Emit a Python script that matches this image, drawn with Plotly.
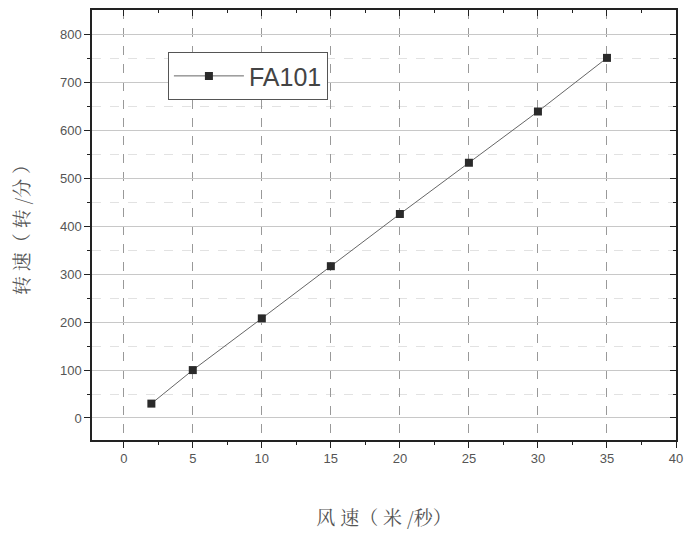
import plotly.graph_objects as go

wind_speed = [2, 5, 10, 15, 20, 25, 30, 35]
rotation_speed = [30, 100, 208, 317, 426, 533, 640, 752]
series_name = "FA101"
x_title = "风 速（ 米 /秒）"
y_title = "转 速（ 转 /分 ）"

fig = go.Figure()
fig.add_trace(go.Scatter(
    x=wind_speed, y=rotation_speed, name=series_name,
    mode="lines+markers",
    line=dict(color="#666666", width=1),
    marker=dict(symbol="square", size=8, color="#2a2a2a"),
))
fig.add_trace(go.Scatter(x=[None], y=[None], xaxis="x2", yaxis="y2",
                         showlegend=False, hoverinfo="skip"))

xr = [-2.3, 40]
yr = [-46, 852]
tickfont = dict(family="Liberation Sans, Arial", size=13, color="#555555")
titlefont = dict(family="Noto Serif CJK SC, Noto Sans CJK SC", size=19, color="#555555")

fig.update_layout(
    width=686, height=536,
    margin=dict(l=92, r=10, t=10, b=96),
    paper_bgcolor="white", plot_bgcolor="white",
    showlegend=True,
    legend=dict(x=0.13, y=0.902, xanchor="left", yanchor="top",
                bordercolor="#555555", borderwidth=1,
                font=dict(family="Liberation Sans, Arial", size=25, color="#444444"),
                bgcolor="white", tracegroupgap=0, itemwidth=70),
    xaxis=dict(range=xr, tickvals=[0, 5, 10, 15, 20, 25, 30, 35, 40], automargin=False,
               showline=True, linecolor="#222222", linewidth=1.5,
               ticks="outside", ticklen=6, tickcolor="#222222",
               minor=dict(tickvals=[-2.5, 2.5, 7.5, 12.5, 17.5, 22.5, 27.5, 32.5, 37.5],
                          ticks="outside", ticklen=3, tickcolor="#222222", showgrid=False),
               showgrid=True, gridcolor="#999999", griddash="dash", gridwidth=1,
               zeroline=False, tickfont=tickfont,
               title=dict(text=x_title, standoff=46, font=titlefont)),
    yaxis=dict(range=yr, tickvals=[0, 100, 200, 300, 400, 500, 600, 700, 800], automargin=False,
               showline=True, linecolor="#222222", linewidth=1.5,
               ticks="outside", ticklen=6, tickcolor="#222222",
               minor=dict(tickvals=[50, 150, 250, 350, 450, 550, 650, 750],
                          ticks="outside", ticklen=3, tickcolor="#222222",
                          showgrid=True, gridcolor="#e2e2e2", griddash="dash", gridwidth=1),
               showgrid=True, gridcolor="#c8c8c8", gridwidth=1,
               zeroline=False, tickfont=tickfont,
               title=dict(text=y_title, standoff=25, font=titlefont)),
    xaxis2=dict(range=xr, overlaying="x", side="top", anchor="y2", automargin=False,
                tickvals=[0, 5, 10, 15, 20, 25, 30, 35, 40], showticklabels=False,
                showline=True, linecolor="#222222", linewidth=1.5,
                ticks="inside", ticklen=6, tickcolor="#222222",
                minor=dict(tickvals=[-2.5, 2.5, 7.5, 12.5, 17.5, 22.5, 27.5, 32.5, 37.5],
                           ticks="inside", ticklen=3, tickcolor="#222222"),
                showgrid=False, zeroline=False),
    yaxis2=dict(range=yr, overlaying="y", side="right", anchor="x2", automargin=False,
                tickvals=[0, 100, 200, 300, 400, 500, 600, 700, 800], showticklabels=False,
                showline=True, linecolor="#222222", linewidth=1.5,
                ticks="inside", ticklen=6, tickcolor="#222222",
                minor=dict(tickvals=[50, 150, 250, 350, 450, 550, 650, 750],
                           ticks="inside", ticklen=3, tickcolor="#222222"),
                showgrid=False, zeroline=False),
)

fig.write_html("out.html", config={"displayModeBar": False},
               post_script="document.body.style.margin='0';")
